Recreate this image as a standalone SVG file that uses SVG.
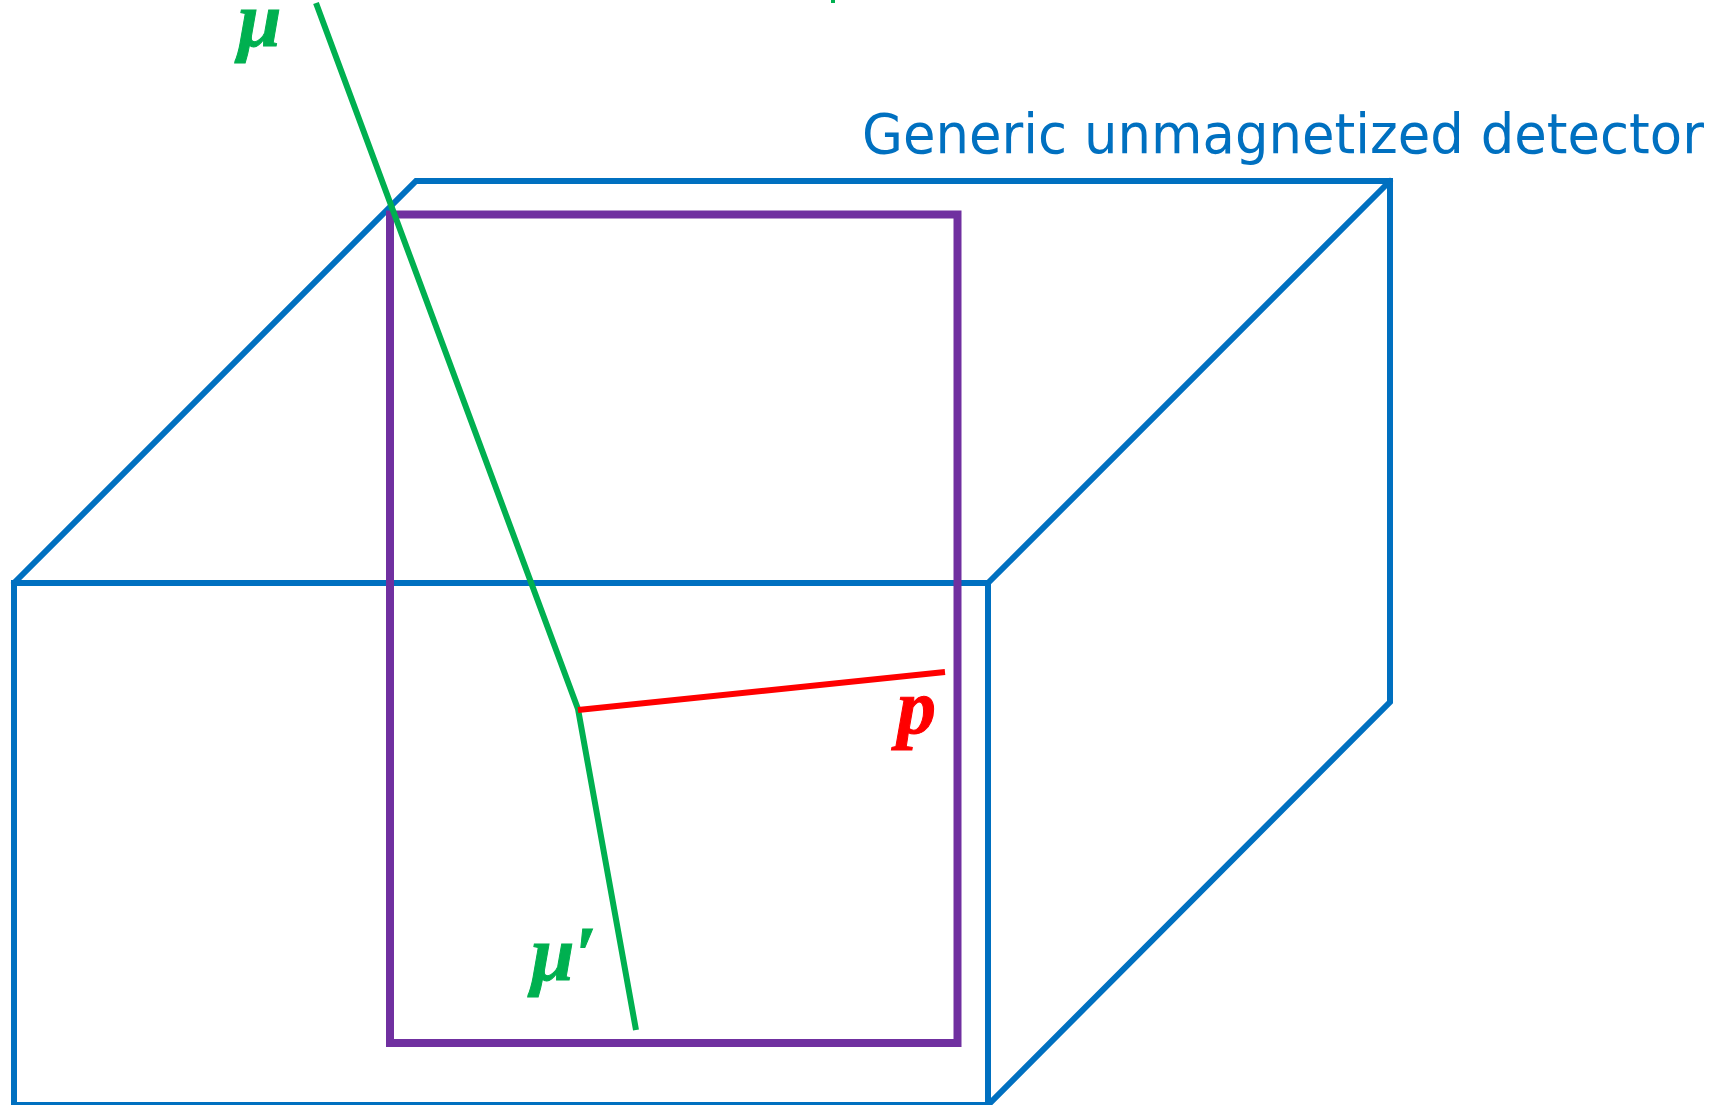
<svg xmlns="http://www.w3.org/2000/svg" width="1728" height="1105" viewBox="0 0 1728 1105">
<style>
.det{fill:none;stroke:#0070C0;stroke-width:6;stroke-linejoin:miter;stroke-linecap:round}
.mu{fill:none;stroke:#00B050;stroke-width:6}
.pr{fill:none;stroke:#FF0000;stroke-width:6}
.sym{font-family:"Liberation Serif",serif;font-weight:700;font-style:italic;font-size:78px;stroke-width:1;paint-order:stroke}
.lab{font-family:"DejaVu Sans",sans-serif;font-size:55px;fill:#0070C0}
</style>
<rect width="1728" height="1105" fill="#fff"/>
<g id="detector">
<path class="det" d="M14 583H988V1105H14Z"/>
<path class="det" d="M14 583L416 181H1390V702L988 1105"/>
<path class="det" d="M988 583L1390 181"/>
<text class="lab" transform="translate(862 153) scale(.8725 1)" x="0" y="0" textLength="965" lengthAdjust="spacingAndGlyphs">Generic unmagnetized detector</text>
</g>
<g id="plane"><rect x="390" y="214.500" width="567.500" height="828.500" fill="none" stroke="#7030A0" stroke-width="8"/></g>
<g id="connectors">
<path class="mu" d="M316 3L578 709L636 1030"/>
<path class="pr" d="M578 710L945 672"/>
<path d="M833 0V3" stroke="#00B050" stroke-width="4" fill="none"/>
</g>
<g id="mu"><text class="sym" x="238" y="46" fill="#00B050" stroke="#00B050">μ</text></g>
<g id="mu-prime"><text class="sym" x="531" y="980" fill="#00B050" stroke="#00B050">μ′</text></g>
<g id="proton"><text class="sym" x="897" y="733" fill="#FF0000" stroke="#FF0000">p</text></g>
</svg>
